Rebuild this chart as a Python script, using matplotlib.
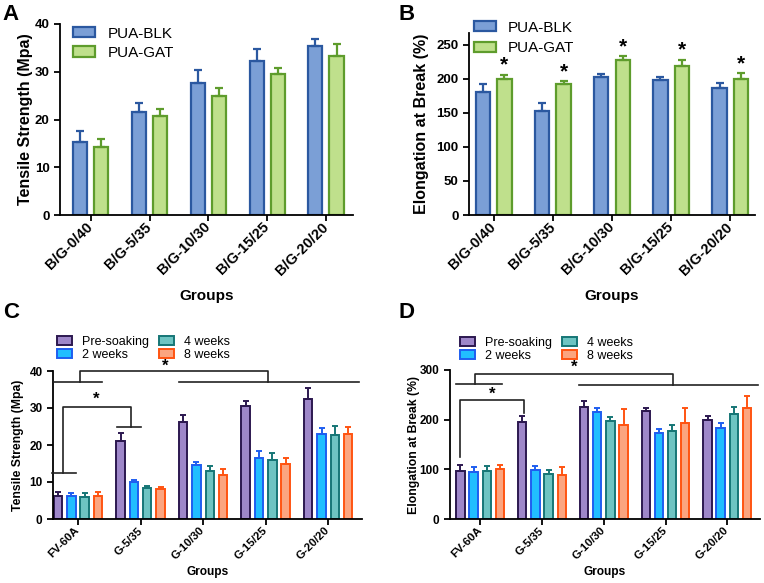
import numpy as np
import matplotlib
matplotlib.use("Agg")
import matplotlib.pyplot as plt
from matplotlib.patches import Patch

plt.rcParams['font.family'] = ['Liberation Sans', 'DejaVu Sans']

# ---- Data -----------------------------------------------------------
groups_ab = ["B/G-0/40", "B/G-5/35", "B/G-10/30", "B/G-15/25", "B/G-20/20"]
series_ab = ["PUA-BLK", "PUA-GAT"]

ts_blk = [15.2, 21.5, 27.6, 32.2, 35.3]
ts_blk_sd = [2.4, 2.0, 2.8, 2.5, 1.5]
ts_gat = [14.3, 20.7, 25.0, 29.5, 33.2]
ts_gat_sd = [1.7, 1.5, 1.5, 1.2, 2.6]

el_blk = [180, 152, 202, 198, 186]
el_blk_sd = [12, 13, 5, 4, 7]
el_gat = [199, 192, 227, 218, 200]
el_gat_sd = [7, 4, 6, 10, 8]

groups_cd = ["FV-60A", "G-5/35", "G-10/30", "G-15/25", "G-20/20"]
series_cd = ["Pre-soaking", "2 weeks", "4 weeks", "8 weeks"]

ts_soak = [
    [6.2, 21.0, 26.1, 30.5, 32.5],   # pre-soaking
    [6.1, 9.9, 14.5, 16.4, 23.1],    # 2 weeks
    [5.9, 8.3, 13.1, 16.0, 22.8],    # 4 weeks
    [6.3, 8.2, 11.8, 15.0, 23.1],    # 8 weeks
]
ts_soak_sd = [
    [1.0, 2.3, 1.9, 1.5, 2.8],
    [0.8, 0.6, 0.8, 1.9, 1.6],
    [1.0, 0.7, 1.3, 1.9, 2.4],
    [0.9, 0.5, 1.8, 1.4, 1.7],
]
el_soak = [
    [97, 195, 225, 218, 199],
    [94, 98, 215, 174, 183],
    [97, 90, 198, 178, 211],
    [100, 88, 189, 194, 223],
]
el_soak_sd = [
    [12, 12, 12, 6, 8],
    [11, 8, 8, 7, 10],
    [9, 8, 8, 12, 14],
    [8, 16, 32, 29, 25],
]

# ---- Styles ---------------------------------------------------------
face_ab = ["#7b9fd6", "#bfe08c"]
edge_ab = ["#2b58a0", "#5e9c2c"]
face_cd = ["#9e87c9", "#21beff", "#6ec4c2", "#fba580"]
edge_cd = ["#2c1850", "#1e5ef0", "#167676", "#ff5412"]

fig = plt.figure(figsize=(7.64, 5.83), dpi=100)
W, H = 764.0, 583.0


def px_axes(l, r, b, t):
    return fig.add_axes([l / W, 1 - b / H, (r - l) / W, (b - t) / H])


def style_axes(ax, yticks, ylim, xlim, tick_fs, xtick_fs, labels, ylabel,
               ylab_fs, ylab_x, groups_fs, groups_pad):
    for s in ["top", "right"]:
        ax.spines[s].set_visible(False)
    for s in ["left", "bottom"]:
        ax.spines[s].set_linewidth(1.3)
    ax.set_ylim(*ylim)
    ax.set_xlim(*xlim)
    ax.set_yticks(yticks)
    ax.set_xticks(range(len(labels)))
    ax.set_xticklabels(labels, rotation=45, ha="right", va="center",
                       rotation_mode="anchor", fontweight="bold",
                       fontsize=xtick_fs)
    ax.tick_params(axis="y", labelsize=tick_fs, width=1.3, length=4)
    ax.tick_params(axis="x", width=1.3, length=4, pad=3)
    for t in ax.get_yticklabels():
        t.set_fontweight("bold")
    ax.set_ylabel(ylabel, fontweight="bold", fontsize=ylab_fs)
    ax.yaxis.set_label_coords(ylab_x, 0.5)
    ax.set_xlabel("Groups", fontweight="bold", fontsize=groups_fs,
                  labelpad=groups_pad)


def draw_bars(ax, means, sds, faces, edges, offsets, width, lw, cap):
    x = np.arange(len(means[0]))
    for i, (m, sd) in enumerate(zip(means, sds)):
        ax.bar(x + offsets[i], m, width, color=faces[i], edgecolor=edges[i],
               linewidth=lw, zorder=2)
        ax.errorbar(x + offsets[i], m, yerr=[np.zeros(len(m)), sd], fmt="none",
                    ecolor=edges[i], elinewidth=lw, capsize=cap, capthick=lw,
                    zorder=3)


def add_legend(ax, faces, edges, names, pos, fs, lw, **kw):
    handles = [Patch(facecolor=f, edgecolor=e, linewidth=lw) for f, e in zip(faces, edges)]
    ax.legend(handles, names, loc="upper left", bbox_to_anchor=(pos[0] / W, 1 - pos[1] / H),
              bbox_transform=fig.transFigure, frameon=False, fontsize=fs,
              borderpad=0, borderaxespad=0, **kw)


# ---- Panel A --------------------------------------------------------
axA = px_axes(60, 353, 215, 24)
draw_bars(axA, [ts_blk, ts_gat], [ts_blk_sd, ts_gat_sd], face_ab, edge_ab,
          [-0.18, 0.18], 0.24, 1.6, 3)
style_axes(axA, [0, 10, 20, 30, 40], (0, 40), (-0.525, 4.46), 9.5, 10.5,
           groups_ab, "Tensile Strength (Mpa)", 11.5, -0.092, 11, 8)
add_legend(axA, face_ab, edge_ab, series_ab, (73, 26.5), 11, 1.6,
           handlelength=1.45, handleheight=0.65, handletextpad=0.8,
           labelspacing=0.35)

# ---- Panel B --------------------------------------------------------
axB = px_axes(469, 755, 215, 33)
draw_bars(axB, [el_blk, el_gat], [el_blk_sd, el_gat_sd], face_ab, edge_ab,
          [-0.18, 0.18], 0.24, 1.6, 3)
style_axes(axB, [0, 50, 100, 150, 200, 250], (0, 267), (-0.42, 4.42), 9.5, 10.5,
           groups_ab, "Elongation at Break (%)", 11.5, -0.14, 11, 8)
for i in range(len(el_gat)):
    axB.text(i + 0.18, el_gat[i] + el_gat_sd[i] + 14, "*", ha="center",
             va="center", fontsize=15, fontweight="bold")
add_legend(axB, face_ab, edge_ab, series_ab, (474, 20.5), 11, 1.6,
           handlelength=1.45, handleheight=0.65, handletextpad=0.75,
           labelspacing=0.45)

# ---- Panels C and D ------------------------------------------------
offs = [-0.32, -0.107, 0.107, 0.32]

axC = px_axes(53, 362, 519, 371)
draw_bars(axC, ts_soak, ts_soak_sd, face_cd, edge_cd, offs, 0.135, 1.4, 2)
style_axes(axC, [0, 10, 20, 30, 40], (0, 40), (-0.4, 4.54), 8.5, 8.2,
           groups_cd, "Tensile Strength (Mpa)", 8.8, -0.095, 8.6, 3)

axD = px_axes(450, 760, 519, 370)
draw_bars(axD, el_soak, el_soak_sd, face_cd, edge_cd, offs, 0.135, 1.4, 2)
style_axes(axD, [0, 100, 200, 300], (0, 300), (-0.49, 4.53), 8.5, 8.2,
           groups_cd, "Elongation at Break (%)", 8.8, -0.098, 8.6, 3)

for ax, pos in [(axC, (57, 336)), (axD, (460, 337))]:
    add_legend(ax, face_cd, edge_cd, series_cd, pos, 9, 1.4, ncol=2,
               handlelength=1.2, handleheight=0.7, handletextpad=0.8,
               labelspacing=0.05, columnspacing=0.8)

# significance brackets (x in group units, y in data units)
brk = dict(color="#222222", lw=1.2, clip_on=False, zorder=4)


def bracket(ax, segs):
    for xs, ys in segs:
        ax.plot(xs, ys, **brk)


bracket(axC, [([-0.38, 0.38], [36.9, 36.9]), ([0.03, 0.03, 3.04, 3.04], [36.9, 40, 40, 37.1]),
              ([1.62, 4.49], [37.1, 37.1]),
              ([-0.41, -0.03], [12.4, 12.4]), ([-0.24, -0.24, 0.84, 0.84], [12.4, 30.4, 30.4, 24.9]),
              ([0.62, 1.0], [24.9, 24.9])])
axC.text(1.4, 41.3, "*", ha="center", va="center", fontsize=12, fontweight="bold")
axC.text(0.29, 32.3, "*", ha="center", va="center", fontsize=12, fontweight="bold")

bracket(axD, [([-0.39, 0.36], [271, 271]), ([-0.08, -0.08, 3.12, 3.12], [271, 292, 292, 270]),
              ([1.6, 4.49], [270, 270]),
              ([-0.32, -0.32, 0.71, 0.71], [125, 239, 239, 214])])
axD.text(1.52, 305, "*", ha="center", va="center", fontsize=12, fontweight="bold")
axD.text(0.2, 251, "*", ha="center", va="center", fontsize=12, fontweight="bold")

# panel letters
for lab, x, y in [("A", 2, 4), ("B", 399, 4), ("C", 3, 302), ("D", 399, 302)]:
    fig.text(x / W, 1 - y / H, lab, ha="left", va="top", fontsize=16, fontweight="bold")

fig.savefig("out.png", dpi=100)
